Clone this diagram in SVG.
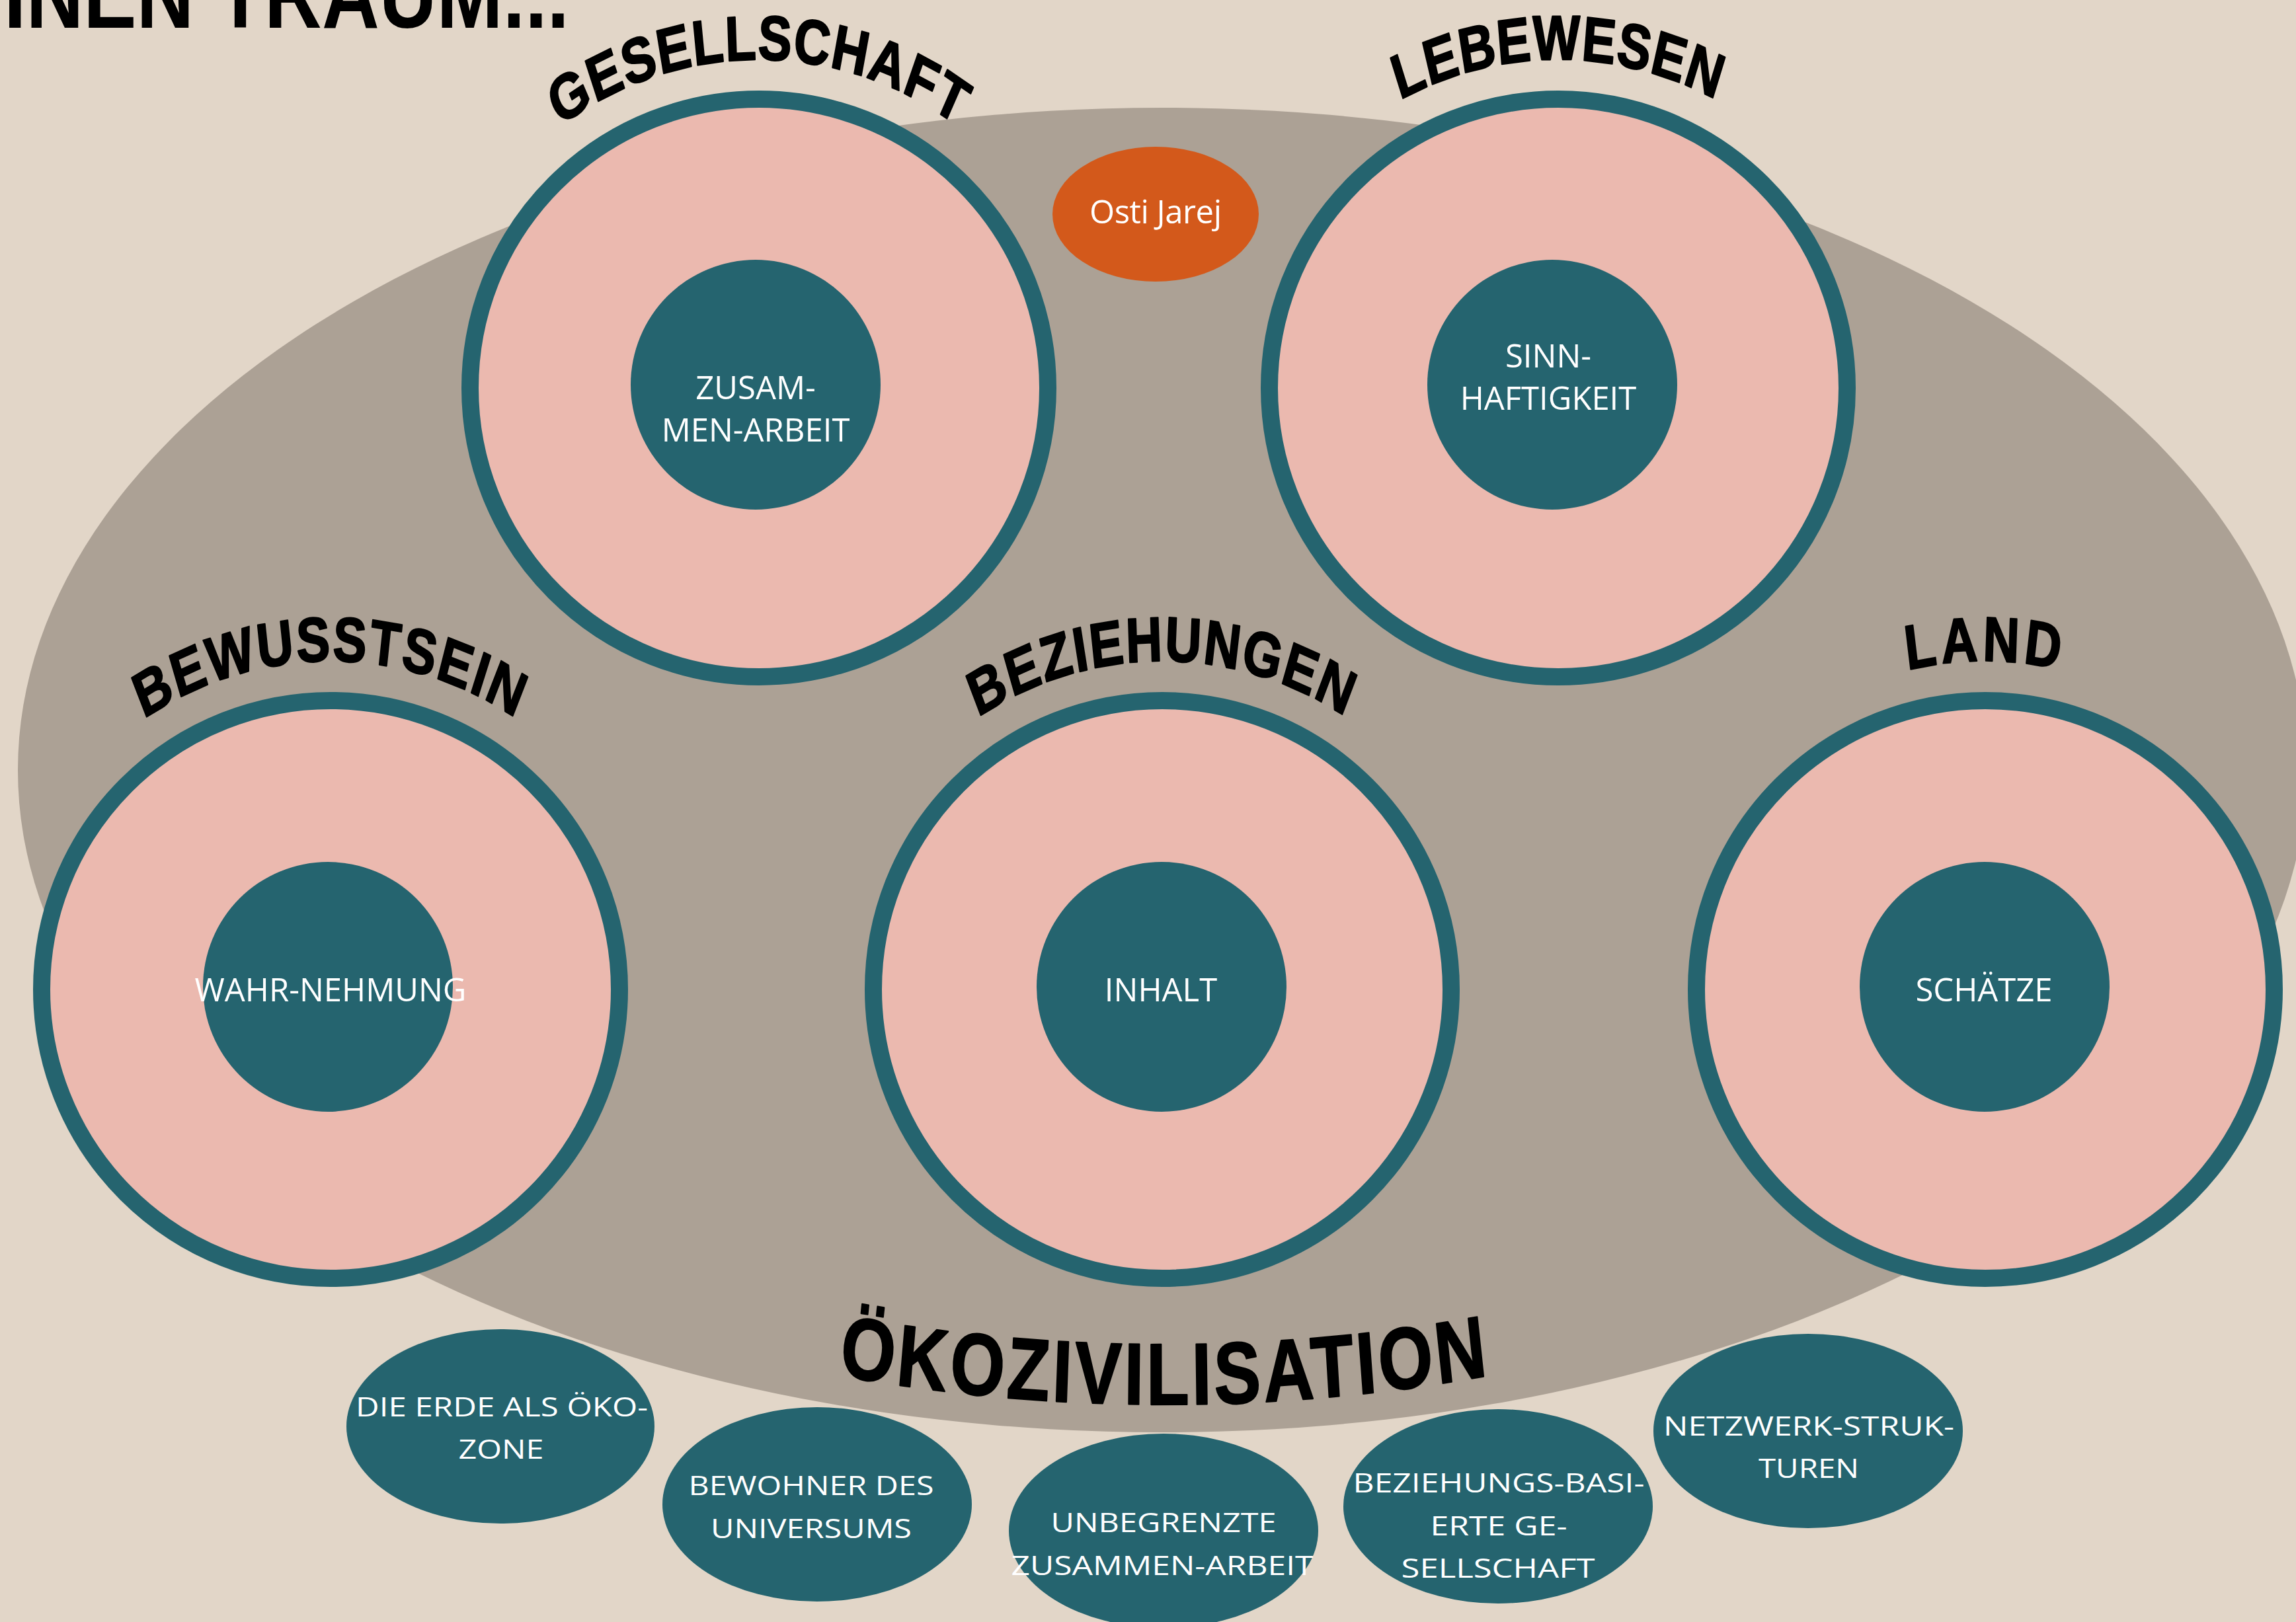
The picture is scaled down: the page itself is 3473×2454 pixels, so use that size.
<svg xmlns="http://www.w3.org/2000/svg" width="3473" height="2454" viewBox="0 0 3473 2454">
<style>
.bg{fill:#e2d6c8}
.field{fill:#aca195}
.ring{fill:#ebb9af;stroke:#25646f;stroke-width:26}
.core{fill:#25646f}
.orange{fill:#d3591b}
.lbl{font-family:"Open Sans","Noto Sans",sans-serif;fill:#fff;text-anchor:middle;font-size:49px}
.blbl{font-family:"Open Sans","Noto Sans",sans-serif;fill:#fff;text-anchor:middle;font-size:41px}
.arc{font-family:"Liberation Sans",Arial,sans-serif;font-weight:bold;fill:#000;stroke:#000;stroke-width:2.5px;stroke-linejoin:round}
.title{font-family:"Liberation Sans",Arial,sans-serif;font-weight:bold;fill:#000}
</style>
<defs>
<path id="topArc" d="M -621.25,0 A 621.25 497 0 0 1 621.25,0"/>
<path id="bottomArc" d="M -3444,0 A 3444 2755 0 0 0 3444,0"/>
</defs>
<rect class="bg" x="0" y="0" width="3473" height="2454"/>
<text class="title" x="6" y="42" font-size="144" textLength="855" lengthAdjust="spacingAndGlyphs">INEN TRAUM...</text>

<g id="oekozivilisation">
<ellipse class="field" cx="1758" cy="1165" rx="1731" ry="1002"/>
<g transform="translate(1762,-630) scale(0.8,1)">
<text class="arc" font-size="132" letter-spacing="6"><textPath href="#bottomArc" startOffset="50%" text-anchor="middle">ÖKOZIVILISATION</textPath></text>
</g>
</g>

<g id="connectors"></g>

<g id="osti-jarej">
<ellipse class="orange" cx="1748" cy="324" rx="156" ry="102"/>
<text class="lbl" x="1748" y="338" font-size="50" textLength="200">Osti Jarej</text>
</g>

<g id="node-gesellschaft">
<circle class="ring" cx="1148" cy="587" r="437"/>
<circle class="core" cx="1143" cy="582" r="189"/>
<text class="lbl" x="1143" y="604">ZUSAM-</text>
<text class="lbl" x="1143" y="668">MEN-ARBEIT</text>
<g transform="translate(1148,587) scale(0.8,1)">
<text class="arc" font-size="95" letter-spacing="2"><textPath href="#topArc" startOffset="50%" text-anchor="middle">GESELLSCHAFT</textPath></text>
</g>
</g>

<g id="node-lebewesen">
<circle class="ring" cx="2357" cy="587" r="437"/>
<circle class="core" cx="2348" cy="582" r="189"/>
<text class="lbl" x="2342" y="556">SINN-</text>
<text class="lbl" x="2342" y="620">HAFTIGKEIT</text>
<g transform="translate(2357,587) scale(0.8,1)">
<text class="arc" font-size="95" letter-spacing="1.5"><textPath href="#topArc" startOffset="50%" text-anchor="middle">LEBEWESEN</textPath></text>
</g>
</g>

<g id="node-bewusstsein">
<circle class="ring" cx="500" cy="1497" r="437"/>
<circle class="core" cx="496" cy="1493" r="189"/>
<text class="lbl" x="500" y="1515">WAHR-NEHMUNG</text>
<g transform="translate(500,1497) scale(0.8,1)">
<text class="arc" font-size="95" letter-spacing="3.5"><textPath href="#topArc" startOffset="50%" text-anchor="middle">BEWUSSTSEIN</textPath></text>
</g>
</g>

<g id="node-beziehungen">
<circle class="ring" cx="1758" cy="1497" r="437"/>
<circle class="core" cx="1757" cy="1493" r="189"/>
<text class="lbl" x="1756" y="1515">INHALT</text>
<g transform="translate(1758,1497) scale(0.8,1)">
<text class="arc" font-size="95" letter-spacing="3"><textPath href="#topArc" startOffset="50%" text-anchor="middle">BEZIEHUNGEN</textPath></text>
</g>
</g>

<g id="node-land">
<circle class="ring" cx="3003" cy="1497" r="437"/>
<circle class="core" cx="3002" cy="1493" r="189"/>
<text class="lbl" x="3001" y="1515">SCHÄTZE</text>
<g transform="translate(3003,1497) scale(0.8,1)">
<text class="arc" font-size="95" letter-spacing="8"><textPath href="#topArc" startOffset="50%" text-anchor="middle">LAND</textPath></text>
</g>
</g>

<g id="node-erde">
<ellipse class="core" cx="757" cy="2158" rx="233" ry="147"/>
<text class="blbl" x="759" y="2143" textLength="442" lengthAdjust="spacingAndGlyphs">DIE ERDE ALS ÖKO-</text>
<text class="blbl" x="758" y="2207" textLength="129" lengthAdjust="spacingAndGlyphs">ZONE</text>
</g>

<g id="node-bewohner">
<ellipse class="core" cx="1236" cy="2276" rx="234" ry="147"/>
<text class="blbl" x="1227" y="2262" textLength="371" lengthAdjust="spacingAndGlyphs">BEWOHNER DES</text>
<text class="blbl" x="1227" y="2327" textLength="304" lengthAdjust="spacingAndGlyphs">UNIVERSUMS</text>
</g>

<g id="node-zusammenarbeit">
<ellipse class="core" cx="1760" cy="2316" rx="234" ry="147"/>
<text class="blbl" x="1760" y="2318" textLength="341" lengthAdjust="spacingAndGlyphs">UNBEGRENZTE</text>
<text class="blbl" x="1758" y="2383" textLength="457" lengthAdjust="spacingAndGlyphs">ZUSAMMEN-ARBEIT</text>
</g>

<g id="node-beziehungsbasiert">
<ellipse class="core" cx="2266" cy="2279" rx="234" ry="147"/>
<text class="blbl" x="2267" y="2258" textLength="441" lengthAdjust="spacingAndGlyphs">BEZIEHUNGS-BASI-</text>
<text class="blbl" x="2267" y="2323" textLength="207" lengthAdjust="spacingAndGlyphs">ERTE GE-</text>
<text class="blbl" x="2266" y="2387" textLength="293" lengthAdjust="spacingAndGlyphs">SELLSCHAFT</text>
</g>

<g id="node-netzwerk">
<ellipse class="core" cx="2735" cy="2165" rx="234" ry="147"/>
<text class="blbl" x="2736" y="2172" textLength="440" lengthAdjust="spacingAndGlyphs">NETZWERK-STRUK-</text>
<text class="blbl" x="2736" y="2236" textLength="152" lengthAdjust="spacingAndGlyphs">TUREN</text>
</g>
</svg>
